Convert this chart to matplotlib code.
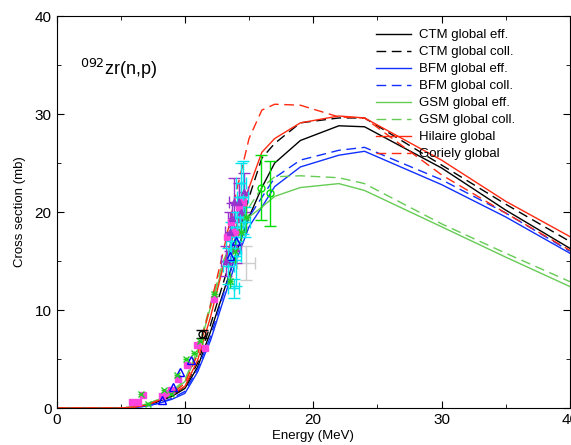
import matplotlib
matplotlib.use("Agg")
import matplotlib.pyplot as plt
from matplotlib.ticker import MultipleLocator

plt.rcParams['font.family'] = ['Liberation Sans', 'DejaVu Sans']

# energy grid of the calculations (MeV)
energy = [0, 5, 6, 7, 8, 9, 10, 11, 12, 13, 14, 15, 16, 17, 19, 22, 24, 30, 35, 40]

ctm_eff = [0, 0, 0.1, 0.3, 0.7, 1.2, 2.0, 4.2, 7.8, 11.8, 15.8, 19.5, 22.5, 25.0, 27.3, 28.8, 28.7, 24.5, 20.2, 16.3]
ctm_coll = [0, 0, 0.1, 0.3, 0.7, 1.3, 2.2, 4.6, 8.5, 12.8, 17.0, 21.5, 25.5, 27.0, 29.1, 29.6, 29.6, 24.8, 20.8, 17.0]
bfm_eff = [0, 0, 0.05, 0.2, 0.5, 0.9, 1.5, 3.7, 6.9, 11.0, 15.0, 18.5, 20.5, 22.6, 24.6, 25.8, 26.2, 22.8, 19.5, 15.8]
bfm_coll = [0, 0, 0.05, 0.2, 0.5, 1.0, 1.7, 4.0, 7.3, 11.6, 15.8, 19.5, 21.5, 23.5, 25.3, 26.3, 26.6, 23.3, 19.9, 16.0]
gsm_eff = [0, 0, 0.1, 0.4, 0.9, 1.6, 2.7, 5.6, 10.3, 14.5, 17.5, 19.5, 20.5, 21.6, 22.5, 22.9, 22.2, 18.5, 15.4, 12.4]
gsm_coll = [0, 0, 0.1, 0.4, 0.9, 1.7, 2.9, 5.9, 10.6, 15.0, 18.2, 20.5, 22.5, 23.6, 23.7, 23.5, 22.9, 18.8, 15.8, 12.9]
hilaire = [0, 0, 0.1, 0.3, 0.8, 1.4, 2.2, 4.9, 9.3, 14.5, 18.5, 22.5, 26.1, 27.5, 29.1, 29.8, 29.6, 25.3, 21.1, 17.5]
goriely = [0, 0, 0.1, 0.3, 0.8, 1.5, 2.5, 5.5, 10.5, 16.0, 22.0, 27.5, 30.4, 31.0, 30.9, 29.7, 29.6, 23.8, 19.9, 16.1]

# experimental data
mag_e = [5.86, 6.37, 6.76, 8.19, 8.53, 8.89, 9.44, 10.14, 10.97, 11.57, 12.27, 13.3, 13.6, 13.9, 14.2, 14.5]
mag_s = [0.6, 0.6, 1.3, 1.2, 1.5, 1.8, 3.0, 4.4, 6.4, 6.1, 11.1, 17.5, 19.0, 18.0, 20.5, 21.0]

tri_e = [8.2, 9.1, 9.6, 10.5, 13.5, 14.0]
tri_s = [0.8, 2.2, 3.7, 4.9, 15.5, 17.0]

grn_e = [6.6, 7.1, 8.4, 8.9, 9.4, 10.1, 10.7, 11.2, 12.3, 13.5, 13.9, 14.4, 14.8]
grn_s = [1.4, 0.4, 1.8, 1.4, 3.4, 5.0, 5.6, 6.8, 11.6, 13.0, 16.0, 18.0, 19.5]
grn_err = [0.1, 0.1, 0.1, 0.1, 0.1, 0.2, 0.2, 0.2, 0.3, 0.8, 1.2, 1.0, 1.5]

grn2_e = [15.9, 16.6]
grn2_s = [22.5, 21.9]
grn2_err = [3.3, 3.3]

blk_e = [11.3]
blk_s = [7.55]
blk_err = [0.4]

gray_e = [14.8]
gray_s = [14.8]
gray_err = [1.7]

cyan_e = [13.4, 13.6, 13.8, 14.0, 14.1, 14.3, 14.5, 14.7, 13.9, 14.4]
cyan_s = [14.5, 17.0, 12.2, 15.5, 18.5, 19.5, 21.5, 19.0, 16.3, 23.0]
cyan_err = [1.8, 2.0, 1.0, 3.0, 1.5, 2.0, 3.7, 1.5, 1.2, 2.0]

purp_e = [13.2, 13.5, 13.7, 13.8, 14.0, 14.2, 14.4, 14.6]
purp_s = [15.0, 18.0, 19.4, 21.0, 16.3, 21.0, 20.0, 22.0]
purp_err = [1.5, 2.0, 1.5, 2.5, 1.5, 2.0, 1.5, 2.0]

fig = plt.figure(figsize=(5.71, 4.45), dpi=100)
ax = fig.add_axes([0.099, 0.083, 0.899, 0.881])

blue = '#1030ff'
green = '#66cc55'
red = '#ff2a10'

ax.plot(energy, ctm_eff, color='black', lw=1, label='CTM global eff.')
ax.plot(energy, ctm_coll, color='black', lw=1, ls=(0, (7, 4)), label='CTM global coll.')
ax.plot(energy, bfm_eff, color=blue, lw=1, label='BFM global eff.')
ax.plot(energy, bfm_coll, color=blue, lw=1, ls=(0, (7, 4)), label='BFM global coll.')
ax.plot(energy, gsm_eff, color=green, lw=1, label='GSM global eff.')
ax.plot(energy, gsm_coll, color=green, lw=1, ls=(0, (7, 4)), label='GSM global coll.')
ax.plot(energy, hilaire, color=red, lw=1, label='Hilaire global')
ax.plot(energy, goriely, color=red, lw=1, ls=(0, (7, 4)), label='Goriely global')

ax.errorbar(gray_e, gray_s, yerr=gray_err, xerr=0.7, fmt='none', ecolor='#cccccc', capsize=4, lw=1)
ax.errorbar(purp_e, purp_s, yerr=purp_err, xerr=0.35, fmt='^', ms=5, color='#9933cc',
            mfc='#9933cc', capsize=4, lw=1)
ax.errorbar(cyan_e, cyan_s, yerr=cyan_err, xerr=0.4, fmt='+', ms=5, color='#00e5ee',
            capsize=4, lw=1)
ax.errorbar(grn_e, grn_s, yerr=grn_err, xerr=0.25, fmt='x', ms=4, color='#22cc22', capsize=0, lw=1)
ax.errorbar(grn2_e, grn2_s, yerr=grn2_err, fmt='o', ms=5, mfc='none', color='#00dd00', capsize=4, lw=1)
ax.plot(mag_e, mag_s, 's', ms=5, color='#ff44dd', ls='none')
ax.plot(tri_e, tri_s, '^', ms=6, mfc='none', mec='#0000ff', ls='none')
ax.errorbar(blk_e, blk_s, yerr=blk_err, fmt='o', ms=5, mfc='none', color='black', capsize=4, lw=1)

ax.set_xlim(0, 40)
ax.set_ylim(0, 40)
ax.xaxis.set_major_locator(MultipleLocator(10))
ax.xaxis.set_minor_locator(MultipleLocator(5))
ax.yaxis.set_major_locator(MultipleLocator(10))
ax.yaxis.set_minor_locator(MultipleLocator(5))
ax.tick_params(which='both', direction='in', top=True, right=True, labelsize=11)
ax.tick_params(which='major', length=5)
ax.tick_params(which='minor', length=3)

ax.set_xlabel('Energy (MeV)', fontsize=9.5, labelpad=2)
ax.set_ylabel('Cross section (mb)', fontsize=9.5, labelpad=6)

ax.text(1.8, 34.0, r'$^{092}$zr(n,p)', fontsize=13)

ax.legend(loc='upper left', bbox_to_anchor=(0.605, 0.99), frameon=False, fontsize=9.5,
          handlelength=2.6, handletextpad=0.6, labelspacing=0.36, borderpad=0.2)

fig.savefig('out.png', dpi=100)
